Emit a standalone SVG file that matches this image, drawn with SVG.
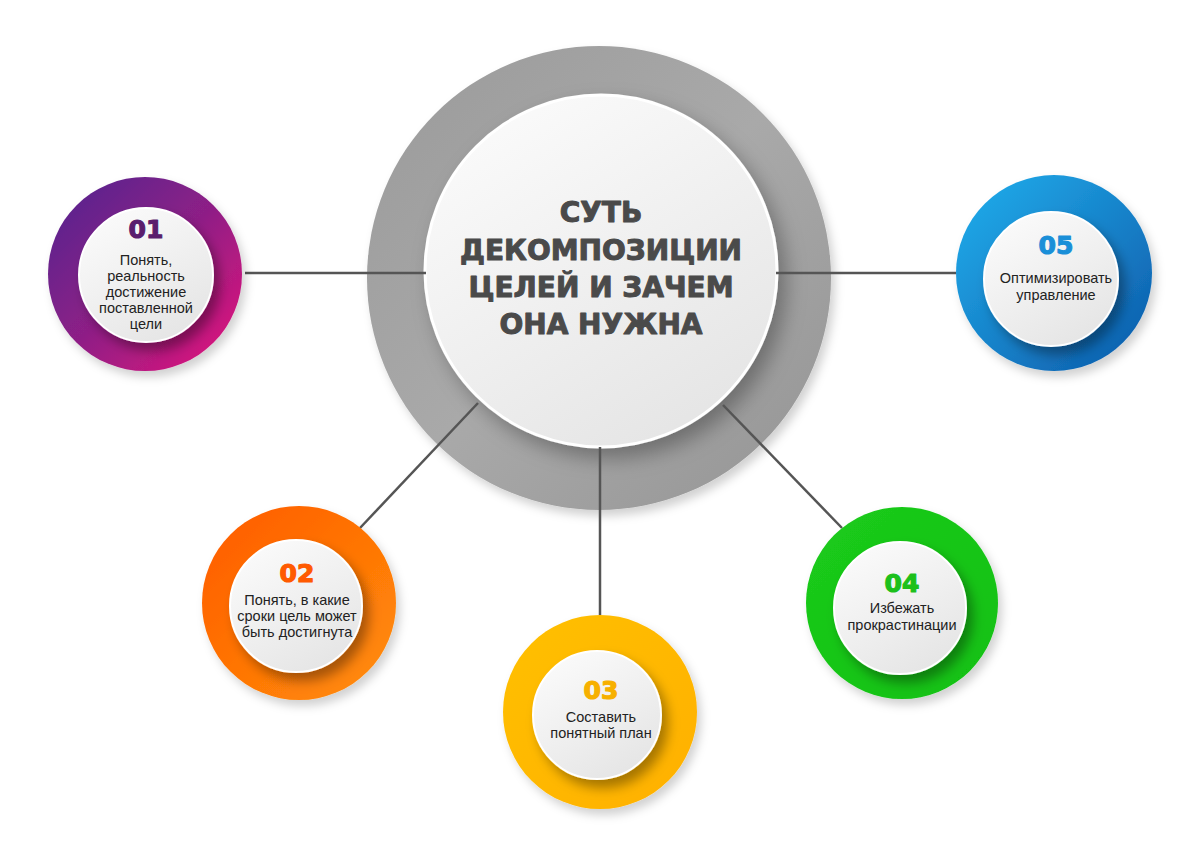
<svg xmlns="http://www.w3.org/2000/svg" width="1200" height="854" viewBox="0 0 1200 854">
<defs>
<linearGradient id="gPurple" x1="0" y1="0" x2="1" y2="1"><stop offset="0" stop-color="#4f2690"/><stop offset="0.5" stop-color="#8e1f86"/><stop offset="1" stop-color="#e8137a"/></linearGradient>
<linearGradient id="gOrange" x1="0" y1="0" x2="1" y2="1"><stop offset="0" stop-color="#ff5a00"/><stop offset="1" stop-color="#ff8f0a"/></linearGradient>
<linearGradient id="gYellow" x1="0" y1="0" x2="1" y2="1"><stop offset="0" stop-color="#ffc000"/><stop offset="1" stop-color="#ffb000"/></linearGradient>
<linearGradient id="gGreen" x1="0" y1="0" x2="1" y2="1"><stop offset="0" stop-color="#1ccb1c"/><stop offset="1" stop-color="#10c010"/></linearGradient>
<linearGradient id="gBlue" x1="0" y1="0" x2="1" y2="1"><stop offset="0" stop-color="#22b0ee"/><stop offset="1" stop-color="#0c58a8"/></linearGradient>
<linearGradient id="gGray" x1="0" y1="0" x2="1" y2="1"><stop offset="0" stop-color="#9a9a9a"/><stop offset="0.5" stop-color="#a9a9a9"/><stop offset="1" stop-color="#949494"/></linearGradient>
<linearGradient id="gInner" x1="0.2" y1="0" x2="0.8" y2="1"><stop offset="0" stop-color="#fbfbfb"/><stop offset="1" stop-color="#e4e4e4"/></linearGradient>
<filter id="shInner" x="-30%" y="-30%" width="170%" height="170%"><feDropShadow dx="6" dy="8" stdDeviation="6" flood-color="#000" flood-opacity="0.35"/></filter>
<filter id="shOuter" x="-30%" y="-30%" width="170%" height="170%"><feDropShadow dx="4" dy="6" stdDeviation="5" flood-color="#000" flood-opacity="0.18"/></filter>
<filter id="shCenter" x="-30%" y="-30%" width="170%" height="170%"><feDropShadow dx="8" dy="10" stdDeviation="10" flood-color="#000" flood-opacity="0.3"/></filter>
</defs>
<style>
.inner{fill:url(#gInner);stroke:#ffffff;stroke-width:2;filter:url(#shInner)}
.num{font-family:"DejaVu Sans",sans-serif;font-weight:bold;font-size:25px;text-anchor:middle;stroke-width:1.2;stroke-linejoin:round}
.lbl{font-family:"Liberation Sans",Arial,sans-serif;font-size:14.5px;fill:#222;text-anchor:middle}
.title{font-family:"DejaVu Sans",sans-serif;font-weight:bold;font-size:28px;fill:#4a4a4a;stroke:#4a4a4a;stroke-width:1;stroke-linejoin:round;text-anchor:middle}
.conn{stroke:#555;stroke-width:2.5;fill:none}
</style>
<rect width="1200" height="854" fill="#ffffff"/>

<g id="center">
<circle cx="599" cy="278" r="232" fill="url(#gGray)" filter="url(#shOuter)"/>
<circle cx="601" cy="271" r="176" fill="url(#gInner)" stroke="#ffffff" stroke-width="3" filter="url(#shCenter)"/>
<text class="title" x="601" y="222">СУТЬ</text>
<text class="title" x="601" y="260">ДЕКОМПОЗИЦИИ</text>
<text class="title" x="601" y="297">ЦЕЛЕЙ И ЗАЧЕМ</text>
<text class="title" x="601" y="334">ОНА НУЖНА</text>
</g>

<g id="connectors">
<line class="conn" x1="245" y1="273" x2="426" y2="273"/>
<line class="conn" x1="776" y1="273" x2="956" y2="273"/>
<line class="conn" x1="478" y1="403" x2="360" y2="528"/>
<line class="conn" x1="600" y1="447" x2="600" y2="615"/>
<line class="conn" x1="723" y1="405" x2="842" y2="528"/>
</g>

<g id="node01">
<circle cx="145" cy="274" r="97" fill="url(#gPurple)" filter="url(#shOuter)"/>
<circle class="inner" cx="146" cy="275" r="67"/>
<text class="num" x="146" y="238" fill="#5a1e6e" stroke="#5a1e6e">01</text>
<text class="lbl" x="146" y="265">Понять,</text>
<text class="lbl" x="146" y="281">реальность</text>
<text class="lbl" x="146" y="297">достижение</text>
<text class="lbl" x="146" y="313">поставленной</text>
<text class="lbl" x="146" y="329">цели</text>
</g>

<g id="node02">
<circle cx="299" cy="603" r="97" fill="url(#gOrange)" filter="url(#shOuter)"/>
<circle class="inner" cx="296" cy="606" r="66"/>
<text class="num" x="297" y="582" fill="#ff5a00" stroke="#ff5a00">02</text>
<text class="lbl" x="297" y="605">Понять, в какие</text>
<text class="lbl" x="297" y="621">сроки цель может</text>
<text class="lbl" x="297" y="637">быть достигнута</text>
</g>

<g id="node03">
<circle cx="600" cy="712" r="97" fill="url(#gYellow)" filter="url(#shOuter)"/>
<circle class="inner" cx="597" cy="715" r="64"/>
<text class="num" x="601" y="699" fill="#f7b000" stroke="#f7b000">03</text>
<text class="lbl" x="601" y="722">Составить</text>
<text class="lbl" x="601" y="738">понятный план</text>
</g>

<g id="node04">
<circle cx="902" cy="603" r="96" fill="url(#gGreen)" filter="url(#shOuter)"/>
<circle class="inner" cx="900" cy="608" r="66"/>
<text class="num" x="902" y="592" fill="#1cc01c" stroke="#1cc01c">04</text>
<text class="lbl" x="902" y="613">Избежать</text>
<text class="lbl" x="902" y="630">прокрастинации</text>
</g>

<g id="node05">
<circle cx="1054" cy="273" r="98" fill="url(#gBlue)" filter="url(#shOuter)"/>
<circle class="inner" cx="1051" cy="279" r="67"/>
<text class="num" x="1056" y="254" fill="#1a8fd8" stroke="#1a8fd8">05</text>
<text class="lbl" x="1056" y="283">Оптимизировать</text>
<text class="lbl" x="1056" y="300">управление</text>
</g>
</svg>
